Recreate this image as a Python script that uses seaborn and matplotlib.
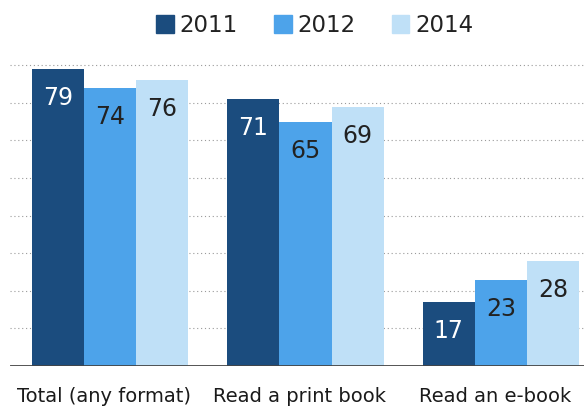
import matplotlib
matplotlib.use("Agg")
import matplotlib.pyplot as plt
import matplotlib.transforms as mtransforms
import seaborn as sns
import pandas as pd

categories = ["Total (any format)", "Read a print book", "Read an e-book"]
years = ["2011", "2012", "2014"]
values_2011 = [79, 71, 17]
values_2012 = [74, 65, 23]
values_2014 = [76, 69, 28]

palette = ["#1b4c7e", "#4da3ea", "#bfe0f7"]
label_colors = ["white", "#222222", "#222222"]

rows = []
for year, vals in zip(years, [values_2011, values_2012, values_2014]):
    for cat, v in zip(categories, vals):
        rows.append({"category": cat, "year": year, "value": v})
df = pd.DataFrame(rows)

sns.set_theme(style="white")
plt.rcParams["font.family"] = ["DejaVu Sans"]

W, H = 584, 412
fig = plt.figure(figsize=(W / 100, H / 100), dpi=100)
px_per_unit = 3.76
ymax = 82
ax_bottom = 46
ax_left = 10
ax = fig.add_axes([ax_left / W, ax_bottom / H, (W - ax_left) / W, ymax * px_per_unit / H])

sns.barplot(data=df, x="category", y="value", hue="year", palette=palette,
            order=categories, hue_order=years, width=0.8, saturation=1,
            edgecolor="none", linewidth=0, ax=ax, legend=False)

ax.set_ylim(0, ymax)
ax.set_xlim(-0.5115, 2.4246)

# dotted reference lines
for g in range(10, 81, 10):
    ax.axhline(g, color="#9a9a9a", lw=0.8, ls=(0, (1, 2.5)), zorder=0)
ax.axhline(0, color="#444444", lw=2.0, zorder=3)

for s in ax.spines.values():
    s.set_visible(False)
ax.set_yticks([])
ax.set_xlabel("")
ax.set_ylabel("")
ax.tick_params(axis="x", length=0, pad=15, labelsize=14, colors="#1a1a1a")
shift = mtransforms.ScaledTranslation(-6 / 100, 0, fig.dpi_scale_trans)
for lbl in ax.get_xticklabels():
    lbl.set_transform(lbl.get_transform() + shift)

# value labels inside the bar tops
for container, color in zip(ax.containers, label_colors):
    for bar in container:
        h = bar.get_height()
        ax.annotate(f"{h:.0f}", (bar.get_x() + bar.get_width() / 2, h),
                    xytext=(0, -21), textcoords="offset points",
                    ha="center", va="center", fontsize=17, color=color,
                    zorder=4)

handles = [plt.Rectangle((0, 0), 1, 1, color=c) for c in palette]
fig.legend(handles, years, loc="center", bbox_to_anchor=(0.539, 0.939), ncol=3,
           frameon=False, handlelength=0.75, handleheight=0.85,
           handletextpad=0.25, columnspacing=1.6, labelcolor="#222222",
           prop={"family": ["DejaVu Sans"], "size": 16.5})

fig.savefig("out.png", dpi=100)
